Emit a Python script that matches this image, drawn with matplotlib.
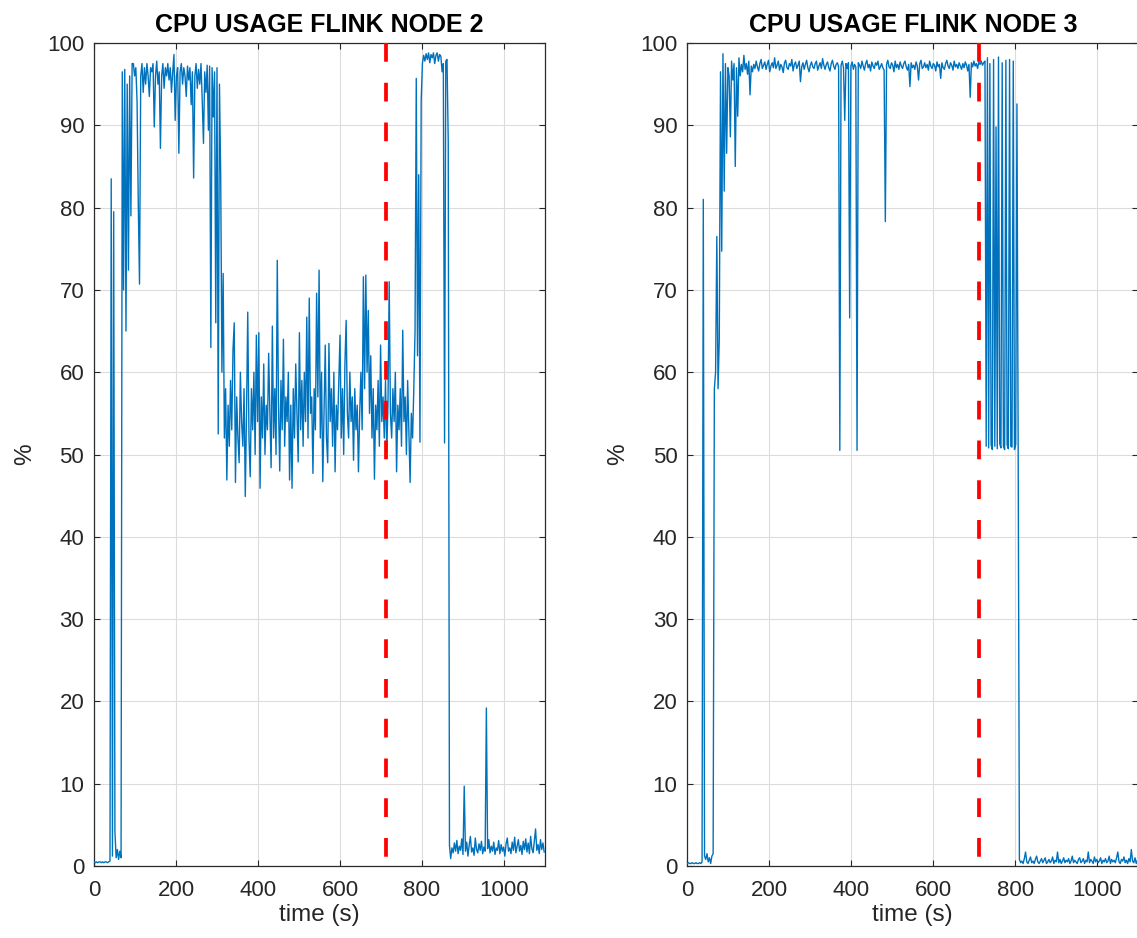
import numpy as np
import matplotlib
matplotlib.use("Agg")
import matplotlib.pyplot as plt

plt.rcParams['font.family'] = ['Liberation Sans', 'DejaVu Sans']

STEP = 3  # sampling interval of the listed values, seconds
EVENT_T = 711  # red dashed marker (s)

# ---------------- Flink node 2 ----------------
n2_idle = [0.5, 0.4, 0.5, 0.4, 0.5, 0.5, 0.4, 0.5, 0.4, 0.5, 0.5, 0.4, 0.5, 0.6,
           83.5, 1.2, 79.5, 4.2, 1.0, 2.0, 0.8, 1.8, 1.0]                      # t = 0 ..
n2_high = [96.5, 70, 96.8, 65, 95, 72.4, 96, 79, 97.5,
           97.5, 96, 97, 93, 80.5, 70.7, 96, 97.5, 94, 97, 95, 97.5, 96, 93.5, 97, 96.5,
           97.5, 89.8, 96, 97.8, 95, 96.5, 87.2, 96, 97.5, 94.5, 97, 96, 97.5, 95.5, 97,
           94, 96.5, 98.6, 90.6, 96, 97, 86.6, 96.5, 97.5, 95, 97, 96, 93.5, 97.2, 95.5,
           97, 92.5, 96.5, 83.6, 96, 97.5, 94.5, 96.8, 95, 97.5, 93, 87.8, 96.5, 94, 97.3,
           89.4, 97.2, 63, 97, 91, 96.5, 66, 97, 52.5, 95, 84, 60, 72, 52]        # t = 69 ..
n2_mid = [58, 46.9, 56, 51, 59, 53, 62.7, 66, 46.6, 57, 52, 49, 60, 54, 51, 58, 44.9,
          55, 67.3, 52, 47.3, 58, 53, 60, 50, 64.5, 54, 64.8, 45.9, 57, 52, 61, 50, 56,
          53, 62.3, 55, 48.4, 65.6, 52, 58, 50, 73.6, 56, 48, 59, 53, 64, 51, 57, 54, 60,
          46.9, 56, 45.9, 58, 52, 61, 55, 49.1, 64.8, 53, 59, 51, 60, 54, 66.7, 52, 69,
          55, 57, 47.7, 58, 53, 69.6, 57, 72.4, 52, 60, 46.7, 55, 63.3, 52, 49, 63.5, 54,
          58, 51, 60, 47.9, 56, 53, 59, 64.5, 52, 58, 50, 61, 66.3, 55, 52, 60, 54, 57,
          49.3, 58, 53, 56, 47.9, 55, 60, 53, 71.6, 58, 71.8, 60, 67.5, 55, 62, 52, 58,
          47, 56, 53, 59, 51, 63.3, 54, 57, 52, 59, 50.3, 56, 71, 55, 52, 58, 54, 60,
          47.9, 56, 53, 58, 51, 65.1, 54, 57, 50, 59, 53, 46.6, 55, 52, 58, 65]     # t = 321 ..
n2_peak = [95.7, 62, 84, 51.5, 93, 97.5, 98.5, 97.8, 98.7, 98, 98.8, 97.6, 98.6, 98.2,
           98.8, 97.5, 98.5, 98.8, 97.8, 98.6, 98.4, 96.5, 97.5, 51.4, 97.8, 98, 88,
           2.5, 0.9]                                                             # t = 786 ..
n2_tail = [2.2, 1.6, 2.8, 1.8, 3.1, 1.5, 2.4, 1.9, 3.3, 1.4,
           9.7, 1.8, 2.9, 1.2, 2.5, 3.6, 1.7, 2.2, 1.3, 3.4,
           2.0, 1.6, 2.7, 1.9, 3.0, 1.5, 2.3, 1.8, 19.2, 2.1,
           3.2, 1.6, 2.4, 1.8, 2.9, 1.4, 2.2, 1.9, 3.1, 1.5,
           2.6, 1.8, 2.3, 1.2, 2.7, 3.4, 1.8, 2.2, 1.5, 2.9,
           1.9, 3.5, 1.6, 2.4, 3.2, 1.8, 2.5, 1.4, 3.0, 2.0,
           3.3, 1.7, 2.8, 1.5, 3.6, 2.1, 1.6, 3.1, 4.5, 1.9,
           2.6, 1.5, 3.2, 2.0, 2.8, 1.7]                                         # t = 873 ..
n2_starts = [0, 69, 321, 786, 873]

# ---------------- Flink node 3 ----------------
n3_idle = [0.3, 0.4, 0.3, 0.3, 0.4, 0.3, 0.3, 0.4, 0.3, 0.3, 0.4, 0.3, 0.5, 81,
           1.2, 0.8, 1.5, 0.5, 1.0, 0.3, 1.2, 1.5, 58]                          # t = 0 ..
n3_ramp = [60, 76.5, 58, 64, 96.5, 74.7, 98.7, 82, 97.5, 86.6, 97, 96, 88.6, 97.8,
           95.5, 97.5, 85, 97, 91.1, 98.2, 96, 97.4, 96.5, 98.5, 96.8, 97.5, 96.2,
           97.8, 93.7, 97.2, 96.5]                                               # t = 69 ..
n3_high = [97.4, 96.9, 97.8, 97.1, 96.6, 97.5, 98.0, 96.9, 97.3, 97.7,
           96.8, 97.4, 97.9, 96.5, 97.2, 97.6, 97.0, 98.2, 96.9, 97.3,
           97.8, 96.7, 97.4, 97.1, 96.4, 97.6, 97.9, 97.0, 96.8, 97.5,
           97.2, 98.0, 96.6, 97.4, 97.7, 96.9, 97.3, 97.8, 95.3, 97.1,
           97.6, 96.8, 97.4, 97.9, 97.0, 96.5, 97.3, 97.7, 97.1, 96.9,
           97.5, 97.8, 96.7, 97.2, 97.6, 96.9, 98.1, 97.3, 96.8, 97.4,
           97.7, 97.0, 96.6, 97.5, 97.9, 97.2, 96.8, 97.4, 97.6, 97.1,
           50.5, 97.3, 97.8, 97.0, 90.6, 97.5, 96.9, 97.6, 66.6, 97.2,
           97.7, 96.8, 97.4, 97.1, 50.5, 97.6, 97.3, 96.9, 97.8, 97.2,
           96.7, 97.5, 97.9, 97.0, 97.4, 96.6, 97.7, 97.2, 96.9, 97.6,
           97.3, 97.8, 96.8, 97.1, 97.5, 97.0, 96.7, 78.3, 97.4, 97.9,
           97.1, 96.9, 97.6, 97.3, 96.5, 97.8, 97.0, 97.4, 96.8, 97.7,
           97.2, 96.9, 97.5, 97.8, 97.1, 96.7, 97.4, 94.7, 97.6, 97.0,
           97.3, 96.8, 97.7, 97.2, 95.5, 97.5, 97.9, 96.9, 97.1, 97.6,
           97.0, 97.4, 96.7, 97.8, 97.2, 96.9, 97.5, 97.3, 96.6, 97.7,
           97.1, 97.4, 95.7, 97.6, 97.0, 96.8, 97.5, 97.9, 97.2, 96.9,
           97.6, 97.3, 96.7, 97.8, 97.1, 97.4, 96.9, 97.6, 97.2, 96.8,
           97.5, 97.0, 97.7, 97.3, 96.6, 97.4, 93.4, 97.6, 97.1, 97.8,
           97.2, 97.5, 96.9, 97.7, 97.4, 97.8, 97.3, 97.6]                       # t = 162 ..
n3_osc = [97.8, 51, 98.2, 50.8, 97.5, 51.2, 50.6, 98, 51, 89.8, 50.7, 98.3, 51.3, 50.8,
          97.6, 51, 50.6, 97.9, 51.2, 50.7, 98, 51, 50.9, 97.8, 50.6, 51.2, 92.6, 50.5]  # t = 726 ..
n3_tail = [0.8, 0.4, 0.6, 0.3, 0.9, 1.7, 0.5, 0.3, 0.7, 1.1,
           0.4, 0.6, 0.3, 0.8, 1.2, 0.5, 0.3, 0.6, 0.9, 0.4,
           0.7, 1.0, 0.3, 0.5, 0.8, 0.4, 0.6, 1.1, 0.3, 0.7,
           0.5, 1.7, 0.4, 0.8, 0.3, 0.6, 1.0, 0.4, 0.7, 0.5,
           0.9, 0.3, 0.6, 1.2, 0.4, 0.7, 0.5, 0.3, 0.8, 1.0,
           0.4, 0.6, 0.9, 0.3, 0.7, 0.5, 1.7, 0.4, 0.8, 0.6,
           0.3, 1.1, 0.5, 0.8, 0.4, 0.6, 1.0, 0.3, 0.7, 0.5,
           0.9, 0.4, 0.6, 1.2, 0.3, 0.8, 0.5, 0.7, 0.4, 1.0,
           1.7, 0.5, 0.3, 0.8, 0.6, 1.1, 0.4, 0.7, 0.3, 0.9,
           0.5, 2.0, 0.6, 0.4, 1.0, 0.3, 0.7]                                    # t = 810 ..
n3_starts = [0, 69, 162, 726, 810]

titles = ["CPU USAGE FLINK NODE 2", "CPU USAGE FLINK NODE 3"]
x_ticks = [0, 200, 400, 600, 800, 1000]
y_ticks = [0, 10, 20, 30, 40, 50, 60, 70, 80, 90, 100]


def build(starts, segments):
    ts, vs = [], []
    for s, seg in zip(starts, segments):
        ts.append(s + STEP * np.arange(len(seg)))
        vs.append(np.asarray(seg, dtype=float))
    return np.concatenate(ts), np.concatenate(vs)


t2, v2 = build(n2_starts, [n2_idle, n2_high, n2_mid, n2_peak, n2_tail])
t3, v3 = build(n3_starts, [n3_idle, n3_ramp, n3_high, n3_osc, n3_tail])

W, H = 1137, 938
fig = plt.figure(figsize=(W / 100, H / 100), dpi=100)
ax_w = 451 / W
ax_h = 823 / H
bottom = 72 / H
axes = [fig.add_axes([94 / W, bottom, ax_w, ax_h]),
        fig.add_axes([687.3 / W, bottom, ax_w, ax_h])]

TXT = '#262626'
for ax, (t, v), title in zip(axes, [(t2, v2), (t3, v3)], titles):
    ax.plot(t, v, color='#0072BD', lw=1.0, zorder=3)
    ax.plot([EVENT_T, EVENT_T], [100, 0], color='#FF0000', lw=2.7,
            dashes=(5.0, 5.6), zorder=4, solid_capstyle='butt', dash_capstyle='butt')
    ax.set_xlim(0, 1100)
    ax.set_ylim(0, 100)
    ax.set_xticks(x_ticks)
    ax.set_yticks(y_ticks)
    ax.grid(True, color='#dcdcdc', lw=0.8)
    ax.set_axisbelow(True)
    ax.tick_params(direction='in', length=4.5, width=0.8, colors=TXT,
                   labelsize=16, top=True, right=True)
    ax.tick_params(axis='x', pad=10)
    ax.tick_params(axis='y', pad=7)
    for sp in ax.spines.values():
        sp.set_color('#2b2b2b')
        sp.set_linewidth(0.9)
    ax.set_title(title, fontsize=18, fontweight='bold', color='black', pad=8)
    ax.set_xlabel('time (s)', fontsize=17.5, color=TXT, labelpad=2)
    ax.set_ylabel('%', fontsize=17.5, color=TXT, labelpad=8)

fig.savefig('out.png', dpi=100)
